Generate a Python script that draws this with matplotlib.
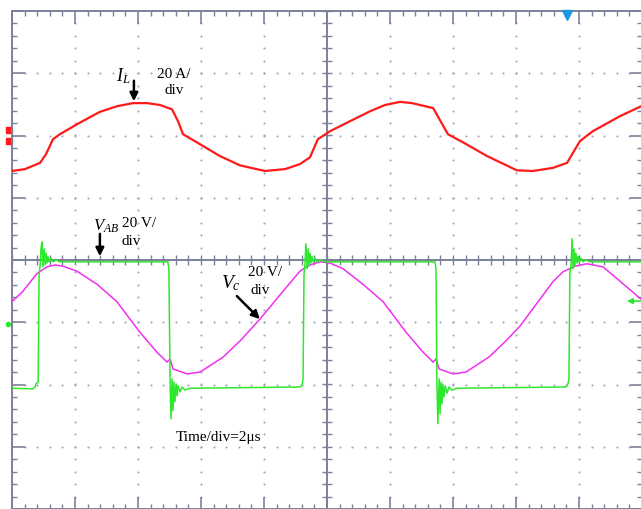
import numpy as np
import matplotlib
matplotlib.use('Agg')
import matplotlib.pyplot as plt
from matplotlib.ticker import MultipleLocator

# scope screen: time in us (2 us/div), amplitude in screen divisions
il_t = [0.00, 0.41, 0.89, 1.08, 1.30, 1.52, 2.06, 2.79, 3.33, 3.84, 4.29, 4.70, 5.08, 5.27, 5.43,
        5.97, 6.60, 7.24, 8.03, 8.67, 9.14, 9.46, 9.71, 10.10, 10.73, 11.37, 11.84, 12.32, 12.70,
        12.95, 13.37, 13.84, 14.32, 15.08, 16.03, 16.54, 17.17, 17.62, 18.03, 18.44, 19.30, 19.97]
il_div = [1.43, 1.46, 1.56, 1.70, 1.94, 2.02, 2.18, 2.38, 2.47, 2.52, 2.52, 2.49, 2.42, 2.23, 2.02,
          1.86, 1.67, 1.52, 1.43, 1.46, 1.54, 1.65, 1.94, 2.07, 2.23, 2.39, 2.49, 2.54, 2.52,
          2.49, 2.44, 2.02, 1.89, 1.67, 1.44, 1.43, 1.48, 1.56, 1.91, 2.07, 2.31, 2.47]

vc_t = [0.00, 0.35, 0.79, 1.11, 1.37, 1.62, 2.06, 2.70, 3.33, 4.06, 4.60, 4.92, 5.02, 5.11, 5.56,
        5.97, 6.70, 7.24, 7.87, 8.51, 9.14, 9.37, 9.62, 9.81, 10.10, 10.51, 11.14, 11.78, 12.51,
        13.05, 13.37, 13.46, 13.56, 14.00, 14.41, 15.14, 15.68, 16.13, 16.76, 17.17, 17.49, 17.87,
        18.25, 18.76, 19.30, 19.97]
vc_div = [-0.67, -0.50, -0.22, -0.11, -0.08, -0.10, -0.18, -0.39, -0.67, -1.16, -1.48, -1.64, -1.59,
          -1.75, -1.83, -1.80, -1.56, -1.30, -0.95, -0.56, -0.18, -0.10, -0.05, -0.03, -0.05, -0.14,
          -0.39, -0.67, -1.16, -1.48, -1.64, -1.59, -1.75, -1.83, -1.80, -1.56, -1.30, -1.06, -0.63,
          -0.35, -0.19, -0.10, -0.06, -0.11, -0.34, -0.63]

vab_t = [0.00, 0.67, 0.73, 0.76, 0.83, 0.86, 0.89, 0.92, 0.95, 0.98, 1.02, 1.05, 1.08, 1.11, 1.14,
         1.17, 1.24, 1.30, 1.40, 1.52, 4.95, 4.98, 5.02, 5.05, 5.08, 5.11, 5.14, 5.17, 5.21, 5.24,
         5.27, 5.33, 5.40, 5.49, 5.65, 9.14, 9.21, 9.24, 9.27, 9.30, 9.33, 9.37, 9.40, 9.43, 9.46,
         9.49, 9.52, 9.56, 9.62, 9.68, 9.78, 9.94, 13.43, 13.46, 13.49, 13.52, 13.56, 13.59, 13.62,
         13.65, 13.68, 13.71, 13.75, 13.81, 13.87, 13.97, 14.13, 17.59, 17.65, 17.68, 17.71, 17.75,
         17.78, 17.81, 17.84, 17.87, 17.90, 17.94, 17.97, 18.00, 18.06, 18.13, 18.22, 18.35, 19.97]
vab_div = [-2.06, -2.07, -2.04, -1.99, -1.96, -0.23, -0.11, 0.18, 0.29, -0.11, 0.18, -0.08, 0.11,
           -0.05, 0.06, -0.03, 0.03, -0.03, 0.00, -0.03, -0.03, -0.14, -1.99, -2.55, -1.91, -2.42,
           -1.96, -2.28, -1.99, -2.18, -2.02, -2.12, -2.04, -2.09, -2.06, -2.04, -2.01, -1.91, -0.23,
           -0.06, 0.26, -0.14, 0.18, -0.10, 0.11, -0.05, 0.06, -0.03, 0.03, -0.03, 0.00, -0.03, -0.03,
           -0.14, -1.99, -2.63, -1.91, -2.47, -1.96, -2.31, -1.99, -2.20, -2.02, -2.14, -2.04, -2.09,
           -2.06, -2.04, -1.99, -1.91, -0.23, -0.06, 0.34, -0.14, 0.18, -0.10, 0.11, -0.05, 0.06,
           -0.03, 0.03, -0.03, 0.00, -0.03, -0.03]

plt.rcParams['font.family'] = ['Liberation Serif', 'DejaVu Serif']
plt.rcParams['mathtext.fontset'] = 'custom'
plt.rcParams['mathtext.it'] = 'Liberation Serif:italic'
plt.rcParams['mathtext.rm'] = 'Liberation Serif'

axcol = '#7b8198'
dotcol = '#9ea3b8'

fig = plt.figure(figsize=(6.41, 5.10), dpi=100)
ax = fig.add_axes([12 / 641, 0, 630 / 641, 498 / 510])
ax.set_xlim(0, 20)
ax.set_ylim(-4, 4)

# frame + ticks
for s in ax.spines.values():
    s.set_color(axcol)
    s.set_linewidth(1.4)
ax.xaxis.set_major_locator(MultipleLocator(2))
ax.xaxis.set_minor_locator(MultipleLocator(0.4))
ax.yaxis.set_major_locator(MultipleLocator(1))
ax.yaxis.set_minor_locator(MultipleLocator(0.2))
ax.tick_params(which='both', direction='in', top=True, right=True, bottom=True, left=True,
               labelbottom=False, labelleft=False, color=axcol)
ax.tick_params(which='major', length=9, width=1.2)
ax.tick_params(which='minor', length=3.6, width=1.0)

# dotted graticule
ys = np.arange(-4, 4.001, 0.2)
xs = np.arange(0, 20.001, 0.4)
for gx in [2, 4, 6, 8, 12, 14, 16, 18]:
    ax.scatter(np.full(len(ys), gx), ys, s=2.2, color=dotcol, lw=0, zorder=1)
for gy in [-3, -2, -1, 1, 2, 3]:
    ax.scatter(xs, np.full(len(xs), gy), s=2.2, color=dotcol, lw=0, zorder=1)

# centre axes with cross ticks
ax.axhline(0, color=axcol, lw=1.4, zorder=2)
ax.axvline(10, color=axcol, lw=1.4, zorder=2)
ax.plot(xs, np.zeros(len(xs)), ls='none', marker='|', ms=7.5, mew=1.0, color=axcol, zorder=2)
ax.plot(np.full(len(ys), 10), ys, ls='none', marker='_', ms=7.5, mew=1.0, color=axcol, zorder=2)

# traces
ax.plot(il_t, il_div, color='#ff1a1a', lw=1.6, zorder=3)
ax.plot(vc_t, vc_div, color='#f030f0', lw=1.1, zorder=4)
ax.plot(vab_t, vab_div, color='#2ee82e', lw=1.1, zorder=5)

# channel markers
ax.plot([-0.1, -0.1], [2.09, 1.91], ls='none', marker='s', ms=4.2, color='#ff1a1a', clip_on=False)
ax.plot([-0.13], [-1.03], ls='none', marker='o', ms=3, color='#2ee82e', clip_on=False)
ax.annotate('', xy=(19.52, -0.66), xytext=(20.1, -0.66), annotation_clip=False,
            arrowprops=dict(arrowstyle='-|>', color='#2ee82e', lw=1.2, mutation_scale=8,
                            shrinkA=0, shrinkB=0))
ax.plot([17.62], [3.93], ls='none', marker='v', ms=7, color='#1e96e0', clip_on=False, zorder=6)

arw = dict(arrowstyle='-|>', color='black', lw=1.8, mutation_scale=12, shrinkA=0, shrinkB=0)

# annotations
ax.text(3.52, 2.97, r'$I_L$', fontsize=13, ha='center', va='center')
ax.annotate('', xy=(3.87, 2.55), xytext=(3.87, 2.88), arrowprops=arw)
ax.text(5.14, 2.86, '20 A/\ndiv', fontsize=11, ha='center', va='center', linespacing=1.3)

ax.text(2.98, 0.56, r'$V_{AB}$', fontsize=12, ha='center', va='center')
ax.annotate('', xy=(2.79, 0.06), xytext=(2.79, 0.42), arrowprops=arw)
ax.text(4.02, 0.60, '20 V/', fontsize=11, ha='center', va='center')
ax.text(3.78, 0.32, 'div', fontsize=11, ha='center', va='center')

ax.text(6.95, -0.36, r'$V_c$', fontsize=14, ha='center', va='center')
ax.annotate('', xy=(7.87, -0.95), xytext=(7.14, -0.58), arrowprops=arw)
ax.text(8.03, -0.19, '20 V/', fontsize=11, ha='center', va='center')
ax.text(7.87, -0.48, 'div', fontsize=11, ha='center', va='center')

ax.text(6.57, -2.84, 'Time/div=2μs', fontsize=11, ha='center', va='center')

fig.savefig('out.png', dpi=100)
